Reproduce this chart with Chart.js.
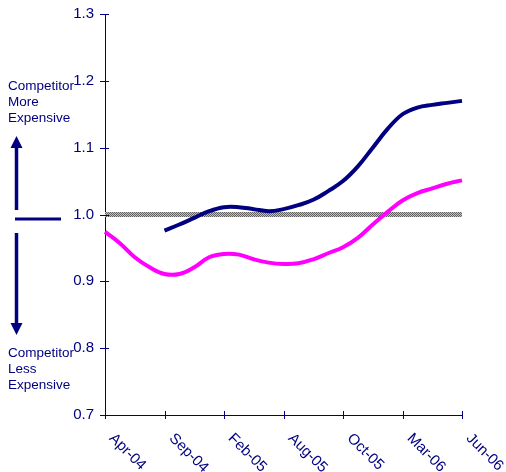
<!DOCTYPE html>
<html>
<head>
<meta charset="utf-8">
<script src="https://cdn.jsdelivr.net/npm/chart.js@4/dist/chart.umd.min.js"></script>
<style>
  html, body { margin: 0; padding: 0; background: #ffffff; }
  #wrap { width: 506px; height: 472px; }
</style>
</head>
<body>
<div id="wrap"><canvas id="priceChart" width="506" height="472"></canvas></div>
<script>
// x categories: a label every fourth point
const labels = [
  "Apr-04", "", "", "",
  "Sep-04", "", "", "",
  "Feb-05", "", "", "",
  "Aug-05", "", "", "",
  "Oct-05", "", "", "",
  "Mar-06", "", "", "",
  "Jun-06",
];

// price ratio series
const ratioMagenta = [
  0.974, 0.957, 0.936, 0.921, 0.911, 0.911, 0.921, 0.936, 0.941,
  0.940, 0.933, 0.928, 0.926, 0.927, 0.933, 0.942, 0.951, 0.965,
  0.985, 1.004, 1.021, 1.032, 1.039, 1.046, 1.051,
];
const ratioNavy = [
  null, null, null, null, 0.976, 0.985, 0.995, 1.005, 1.011,
  1.011, 1.008, 1.005, 1.008, 1.014, 1.022, 1.035, 1.050, 1.072,
  1.100, 1.128, 1.150, 1.160, 1.164, 1.167, 1.170,
];

const parity = 1.0;
const yTicks = [0.7, 0.8, 0.9, 1.0, 1.1, 1.2, 1.3];

const upperNote = ["Competitor", "More", "Expensive"];
const lowerNote = ["Competitor", "Less", "Expensive"];

const NAVY = "#000080";
const FONT = '"Liberation Sans", Arial, sans-serif';

function makeHatch() {
  const tile = document.createElement("canvas");
  tile.width = 2;
  tile.height = 2;
  const t = tile.getContext("2d");
  t.fillStyle = "#c4c4c4";
  t.fillRect(0, 0, 2, 2);
  t.fillStyle = "#606060";
  t.fillRect(0, 0, 1, 1);
  t.fillRect(1, 1, 1, 1);
  return t.createPattern(tile, "repeat");
}

function drawArrow(ctx, x, yFrom, yTo) {
  const dir = yTo < yFrom ? -1 : 1;
  const headLen = 12;
  const headHalf = 6;
  ctx.beginPath();
  ctx.moveTo(x, yFrom);
  ctx.lineTo(x, yTo - dir * headLen);
  ctx.stroke();
  ctx.beginPath();
  ctx.moveTo(x, yTo);
  ctx.lineTo(x - headHalf, yTo - dir * headLen);
  ctx.lineTo(x + headHalf, yTo - dir * headLen);
  ctx.closePath();
  ctx.fill();
}

// grey 1.0 reference line, under the series
const parityLine = {
  id: "parityLine",
  beforeDatasetsDraw(chart) {
    const { ctx, chartArea, scales } = chart;
    const y = scales.y.getPixelForValue(parity);
    ctx.save();
    ctx.strokeStyle = makeHatch();
    ctx.lineWidth = 5;
    ctx.beginPath();
    ctx.moveTo(chartArea.left, y);
    ctx.lineTo(chartArea.right, y);
    ctx.stroke();
    ctx.restore();
  },
};

// tick marks crossing the axes and slanted category labels
const axisDecor = {
  id: "axisDecor",
  afterDraw(chart) {
    const { ctx, chartArea, scales } = chart;
    ctx.save();
    ctx.strokeStyle = NAVY;
    ctx.lineWidth = 1;
    yTicks.forEach((v) => {
      const y = Math.round(scales.y.getPixelForValue(v)) + 0.5;
      ctx.beginPath();
      ctx.moveTo(chartArea.left - 5, y);
      ctx.lineTo(chartArea.left + 4, y);
      ctx.stroke();
    });

    ctx.fillStyle = NAVY;
    ctx.font = "15px " + FONT;
    ctx.textAlign = "left";
    ctx.textBaseline = "middle";
    labels.forEach((label, i) => {
      if (!label) return;
      const x = Math.round(scales.x.getPixelForValue(i)) + 0.5;
      ctx.beginPath();
      ctx.moveTo(x, chartArea.bottom - 4);
      ctx.lineTo(x, chartArea.bottom + 4);
      ctx.stroke();

      ctx.save();
      ctx.translate(x + 6, chartArea.bottom + 21);
      ctx.rotate(Math.PI / 4);
      ctx.fillText(label, 0, 0);
      ctx.restore();
    });
    ctx.restore();
  },
};

// notes and arrows at the left side
const sideNotes = {
  id: "sideNotes",
  afterDraw(chart) {
    const { ctx } = chart;
    ctx.save();
    ctx.fillStyle = NAVY;
    ctx.strokeStyle = NAVY;
    ctx.font = "13.5px " + FONT;
    ctx.textAlign = "left";
    ctx.textBaseline = "alphabetic";
    upperNote.forEach((line, i) => ctx.fillText(line, 8, 90 + i * 16));
    lowerNote.forEach((line, i) => ctx.fillText(line, 8, 357 + i * 16));

    ctx.lineWidth = 3.5;
    drawArrow(ctx, 16.5, 210, 136);
    drawArrow(ctx, 16.5, 233, 335);

    ctx.lineWidth = 3;
    ctx.beginPath();
    ctx.moveTo(15, 219);
    ctx.lineTo(61, 219);
    ctx.stroke();
    ctx.restore();
  },
};

const ctx = document.getElementById("priceChart");
new Chart(ctx, {
  type: "line",
  data: {
    labels,
    datasets: [
      {
        data: ratioMagenta,
        borderColor: "#ff00ff",
        borderWidth: 4,
        tension: 0.4,
        pointRadius: 0,
        fill: false,
      },
      {
        data: ratioNavy,
        borderColor: NAVY,
        borderWidth: 4,
        tension: 0.4,
        pointRadius: 0,
        fill: false,
      },
    ],
  },
  options: {
    responsive: false,
    animation: false,
    layout: {
      padding: { left: 0, right: 44, top: 14, bottom: 0 },
    },
    plugins: {
      legend: { display: false },
      tooltip: { enabled: false },
    },
    scales: {
      x: {
        type: "category",
        offset: false,
        grid: { display: false, drawTicks: false },
        border: { display: true, color: NAVY, width: 1 },
        ticks: { display: false },
        afterFit(scale) {
          scale.height = 57;
          scale.paddingLeft = 0;
          scale.paddingRight = 0;
        },
      },
      y: {
        min: 0.7,
        max: 1.3,
        grid: { display: false, drawTicks: false },
        border: { display: true, color: NAVY, width: 1 },
        ticks: {
          stepSize: 0.1,
          padding: 11,
          color: NAVY,
          font: { family: FONT, size: 15 },
          callback: (v) => Number(v).toFixed(1),
        },
        afterFit(scale) {
          scale.width = 105;
          scale.paddingTop = 0;
          scale.paddingBottom = 0;
        },
      },
    },
  },
  plugins: [parityLine, axisDecor, sideNotes],
});
</script>
</body>
</html>
